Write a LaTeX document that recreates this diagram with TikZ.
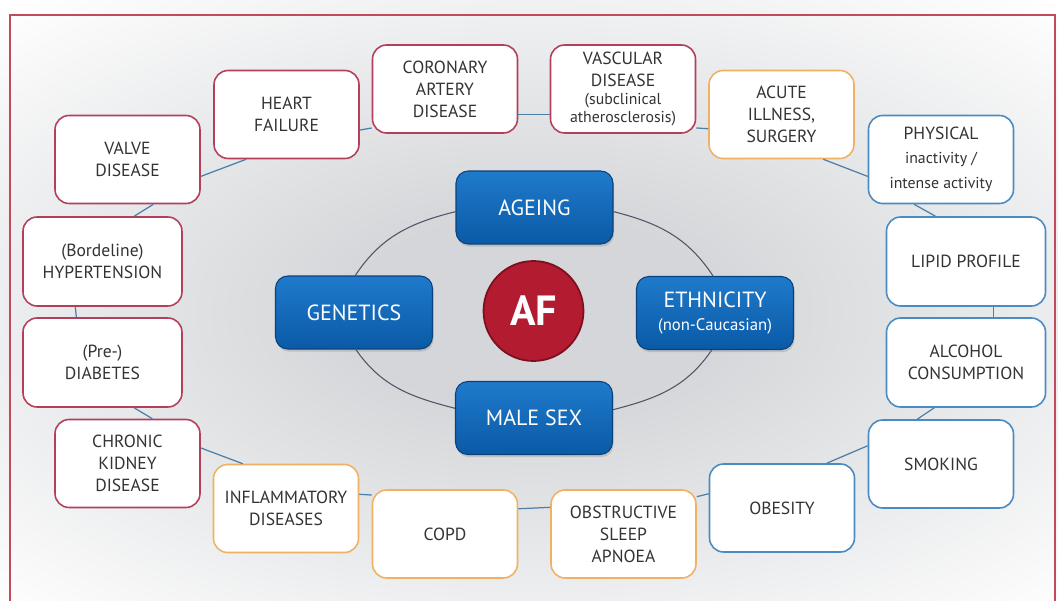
\documentclass[tikz,border=0pt]{standalone}
\usepackage{fontspec}
\setmainfont{PT Sans}
\usetikzlibrary{shadows}
\definecolor{framec}{HTML}{C24A5C}
\definecolor{cvc}{HTML}{B43F5A}
\definecolor{condc}{HTML}{F0B163}
\definecolor{lifec}{HTML}{4A8BC3}
\definecolor{ringc}{HTML}{4B7FAA}
\definecolor{innerc}{HTML}{4A5668}
\definecolor{txt}{HTML}{333333}
\definecolor{btop}{HTML}{1F7ACB}
\definecolor{bbot}{HTML}{0A5AA6}
\definecolor{bdraw}{HTML}{0B417C}
\definecolor{afred}{HTML}{B21B30}
\definecolor{afdraw}{HTML}{7E0F1E}
\definecolor{glow}{HTML}{D4D6D9}
\pgfdeclareradialshading{afglow}{\pgfpoint{0bp}{0bp}}{color(0bp)=(glow);
  color(6bp)=(glow); color(26bp)=(white); color(50bp)=(white)}
\begin{document}
\begin{tikzpicture}[x=0.02cm,y=-0.02cm,
every node/.style={align=center,text=txt,font=\fontsize{10}{12.5}\selectfont},
riskbox/.style={fill=white,rounded corners=8pt,line width=0.9pt,minimum width=2.9cm,minimum height=1.76cm,inner sep=1pt},
widebox/.style={riskbox,minimum width=3.18cm,minimum height=1.78cm},
cvbox/.style={draw=cvc},
condbox/.style={draw=condc},
lifebox/.style={draw=lifec},
corebox/.style={rounded corners=7pt,top color=btop,bottom color=bbot,draw=bdraw,line width=0.6pt,
  minimum width=3.14cm,minimum height=1.46cm,text=white,font=\fontsize{12.5}{14}\selectfont,
  drop shadow={opacity=0.3,shadow xshift=0.6pt,shadow yshift=-1.5pt}},
ring/.style={draw=ringc,line width=0.7pt},
inner/.style={draw=innerc,line width=0.6pt}]
\useasboundingbox (0,0) rectangle (1058,601);
\def\sm{\fontsize{9}{10.5}\selectfont}
% background glow and frame
\shade[shading=afglow] (-226,-88) rectangle (1294,712);
\draw[framec,line width=1.2pt] (10,15) rectangle (1055,640);
% outer ring
\node[riskbox,cvbox] (valve) at (127.5,159.5) {VALVE\\DISEASE};
\node[riskbox,cvbox] (hf) at (286.5,114.5) {HEART\\FAILURE};
\node[riskbox,cvbox] (cad) at (445,89) {CORONARY\\ARTERY\\DISEASE};
\node[riskbox,cvbox] (vasc) at (623,89) {VASCULAR\\DISEASE\\[-2pt]{\sm (subclinical}\\[-2pt]{\sm atherosclerosis)}};
\node[riskbox,condbox] (acute) at (781.5,114.5) {ACUTE\\ILLNESS,\\SURGERY};
\node[riskbox,lifebox] (phys) at (941,159.5) {PHYSICAL\\[1pt]{\sm inactivity /}\\[2pt]{\sm intense activity}};
\node[widebox,lifebox] (lipid) at (966,261.5) {LIPID PROFILE};
\node[widebox,lifebox] (alcohol) at (966,362.5) {ALCOHOL\\CONSUMPTION};
\node[riskbox,lifebox] (smoking) at (941,464) {SMOKING};
\node[riskbox,lifebox] (obesity) at (782,508) {OBESITY};
\node[riskbox,condbox] (osa) at (623.5,534) {OBSTRUCTIVE\\SLEEP\\APNOEA};
\node[riskbox,condbox] (copd) at (445,534) {COPD};
\node[riskbox,condbox] (inflam) at (286,508.5) {INFLAMMATORY\\DISEASES};
\node[riskbox,cvbox] (ckd) at (127.5,463.5) {CHRONIC\\KIDNEY\\DISEASE};
\node[widebox,cvbox] (diab) at (102.5,362.5) {(Pre-)\\DIABETES};
\node[widebox,cvbox] (hyper) at (102.5,261.5) {(Bordeline)\\HYPERTENSION};
\foreach \a/\s/\b/\t in {valve/-13.6/hf/228,hf/-12.1/cad/208.1,cad/-19.7/vasc/199.9,vasc/-28.3/acute/191.8,
  acute/-47.3/phys/193.5,phys/239.6/lipid/124.9,lipid/-59.7/alcohol/59.4,alcohol/235.1/smoking/118.6,
  smoking/166.7/obesity/45.4,obesity/169.1/osa/27.5,osa/160.9/copd/19,copd/152.7/inflam/11.2,
  inflam/134.3/ckd/12.4,ckd/61.6/diab/-55.6,diab/120.6/hyper/239.4,hyper/55.6/valve/-60.1}
  \draw[ring] (\a.\s)--(\b.\t);
% core factors
\node[corebox] (ageing) at (534.5,207.5) {AGEING};
\node[corebox] (genetics) at (354,312.5) {GENETICS};
\node[corebox] (ethnicity) at (715,313) {ETHNICITY\\[-1pt]{\fontsize{9.5}{11}\selectfont(non-Caucasian)}};
\node[corebox] (malesex) at (534,418) {MALE SEX};
\node[circle,minimum size=2cm,fill=afred,draw=afdraw,line width=1pt,text=white,font=\bfseries\fontsize{24}{26}\selectfont] (af) at (533.5,311) {AF};
\draw[inner] (ageing.183) to[out=194,in=56.6] (genetics.88);
\draw[inner] (genetics.-87) to[out=-55.6,in=165.6] (malesex.173.5);
\draw[inner] (malesex.6.5) to[out=14.4,in=235.6] (ethnicity.265.4);
\draw[inner] (ethnicity.93) to[out=123.4,in=-14.2] (ageing.-3.3);
\end{tikzpicture}
\end{document}
